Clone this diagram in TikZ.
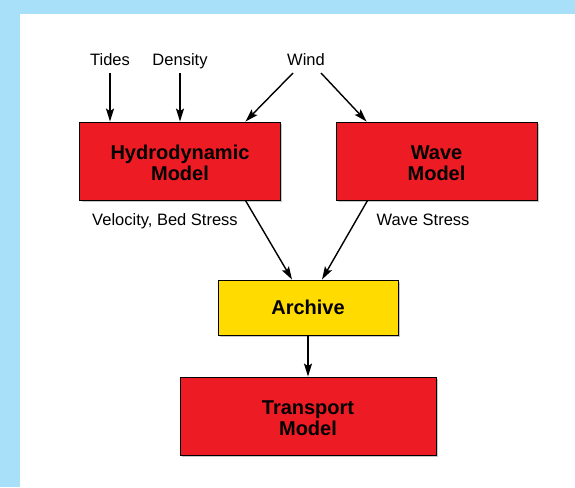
\documentclass[tikz,border=0pt]{standalone}
\usepackage{fontspec}
\setmainfont{Liberation Sans}
\usetikzlibrary{arrows.meta}
\definecolor{bgblue}{HTML}{A9E0F9}
\definecolor{boxred}{HTML}{ED1C24}
\definecolor{boxyellow}{HTML}{FFDB00}
\newcommand\mytopstrut{\rule{0pt}{18.5pt}}
\tikzset{
  box/.style={draw=black, line width=0.9pt, align=center, inner sep=0pt,
    font=\fontsize{20}{21}\selectfont\bfseries},
  redbox/.style={box, fill=boxred},
  yellowbox/.style={box, fill=boxyellow},
  lbl/.style={inner sep=0pt, anchor=base, font=\fontsize{16.5}{19}\selectfont},
  arr/.style={line width=1.4pt, -{Stealth[length=13pt,width=8pt,inset=2.5pt]}}
}
\begin{document}
\begin{tikzpicture}[x=1pt,y=-1pt]
\fill[bgblue] (0,0) rectangle (575,487);
\fill[white] (20,14) rectangle (575,487);
\useasboundingbox (0,0) rectangle (575,487);
% shadows
\fill[black!22] (81.5,123.5) rectangle (282,201.5);
\fill[black!22] (337.5,123.5) rectangle (538.5,201.5);
\fill[black!22] (219.5,281.5) rectangle (399.5,336.5);
\fill[black!22] (181.5,378.5) rectangle (437.5,456.5);
% boxes
\node[redbox, minimum width=201pt, minimum height=78pt] (hydro) at (180,161) {\mytopstrut Hydrodynamic\\Model};
\node[redbox, minimum width=201pt, minimum height=78pt] (wave) at (436.5,161) {\mytopstrut Wave\\Model};
\node[yellowbox, minimum width=180pt, minimum height=55pt] (archive) at (308,307.5) {Archive};
\node[redbox, minimum width=256pt, minimum height=78pt] (transport) at (308,416) {\mytopstrut Transport\\Model};
% input labels
\node[lbl] (tides) at (110,66) {Tides};
\node[lbl] (density) at (180,66) {Density};
\node[lbl] (wind) at (306,66) {Wind};
\node[lbl] (vel) at (165,225) {Velocity, Bed Stress};
\node[lbl] (ws) at (423,225) {Wave Stress};
% connectors
\draw[arr] ([yshift=-7pt]tides.base) -- (tides.base |- hydro.north);
\draw[arr] ([yshift=-7pt]density.base) -- (density.base |- hydro.north);
\draw[arr] ([xshift=-13pt,yshift=-7pt]wind.base) -- ([xshift=-35.5pt]hydro.north east);
\draw[arr] ([xshift=15pt,yshift=-7pt]wind.base) -- ([xshift=31pt]wave.north west);
\draw[arr] ([xshift=-35.5pt]hydro.south east) -- ([xshift=-16pt]archive.north);
\draw[arr] ([xshift=32pt]wave.south west) -- ([xshift=14pt]archive.north);
\draw[arr] (archive.south) -- (transport.north);
\end{tikzpicture}
\end{document}
